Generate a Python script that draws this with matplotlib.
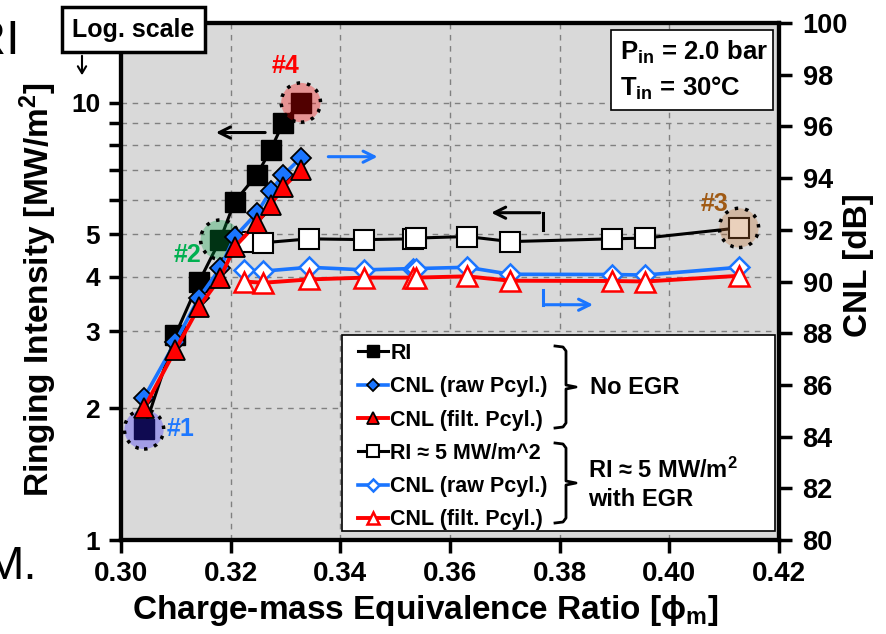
import matplotlib
matplotlib.use("Agg")
import matplotlib.pyplot as plt
from matplotlib.lines import Line2D
from matplotlib.patches import Rectangle

plt.rcParams['font.family'] = ['Liberation Sans', 'DejaVu Sans']
plt.rcParams['font.weight'] = 'bold'
plt.rcParams['mathtext.fontset'] = 'custom'
plt.rcParams['mathtext.rm'] = 'Liberation Sans:bold'
plt.rcParams['mathtext.bf'] = 'Liberation Sans:bold'
plt.rcParams['mathtext.it'] = 'Liberation Sans:bold'

# No EGR sweep
phi_noegr = [0.3042, 0.3099, 0.3142, 0.3181, 0.3207, 0.3248, 0.3273, 0.3296, 0.3328]
ri_noegr = [1.79, 2.94, 3.89, 4.86, 5.93, 6.84, 7.80, 9.0, 10.0]
cnl_raw_noegr = [85.5, 87.66, 89.36, 90.52, 91.72, 92.65, 93.50, 94.12, 94.78]
cnl_filt_noegr = [85.1, 87.35, 89.01, 90.14, 91.33, 92.26, 92.96, 93.66, 94.31]

# RI ~ 5 MW/m2 with EGR
phi_egr = [0.3224, 0.3259, 0.3343, 0.3444, 0.3532, 0.3538, 0.3631, 0.3710, 0.3895, 0.3956, 0.4127]
ri_egr = [4.81, 4.78, 4.88, 4.86, 4.88, 4.90, 4.94, 4.81, 4.88, 4.90, 5.17]
cnl_raw_egr = [90.45, 90.40, 90.55, 90.45, 90.50, 90.50, 90.55, 90.28, 90.27, 90.25, 90.55]
cnl_filt_egr = [90.0, 89.95, 90.08, 90.15, 90.15, 90.15, 90.2, 90.03, 90.02, 90.0, 90.22]

# highlighted operating points (#1..#4)
hl_labels = ["#1", "#2", "#3", "#4"]
hl_phi = [phi_noegr[0], phi_noegr[3], phi_egr[-1], phi_noegr[-1]]
hl_ri = [ri_noegr[0], ri_noegr[3], ri_egr[-1], ri_noegr[-1]]
hl_fill = ["#3020ff", "#00a041", "#c07030", "#ff0000"]
hl_text = ["#1e78ff", "#00b050", "#a05a14", "#ff0000"]
hl_offset = [(37, 0), (-33, -15), (-24, 24), (-15, 37)]

x_ticks = [0.30, 0.32, 0.34, 0.36, 0.38, 0.40, 0.42]
ri_ticks = [1, 2, 3, 4, 5, 6, 7, 8, 9, 10]
ri_ticklabels = ["1", "2", "3", "4", "5", "", "", "", "", "10"]
cnl_ticks = list(range(80, 101, 2))

BLUE = "#1a75ff"
RED = "#ff0000"

W, H = 886, 634
def fx(px):
    return px / W
def fy(py):
    return 1 - py / H

fig = plt.figure(figsize=(8.86, 6.34), dpi=100)
ax = fig.add_axes([fx(121), fy(540), fx(779) - fx(121), fy(23) - fy(540)])
ax.set_facecolor("#d9d9d9")
ax.set_yscale("log")
ax.set_xlim(0.30, 0.42)
ax.set_ylim(1, 15.2)
ax.set_xticks(x_ticks)
ax.set_xticklabels([f"{v:.2f}" for v in x_ticks], fontsize=20)
ax.set_yticks(ri_ticks)
ax.set_yticklabels(ri_ticklabels, fontsize=19)
ax.yaxis.set_minor_locator(matplotlib.ticker.NullLocator())
ax.grid(True, color="#808080", lw=1, ls=(0, (4, 4)))
ax.tick_params(direction="out", length=9, width=2.5, pad=6)
for s in ax.spines.values():
    s.set_linewidth(3)

# RI series on log axis
ax.plot(phi_noegr, ri_noegr, color="k", lw=2.2, marker="s", ms=14.5, mfc="k", mec="k", zorder=3)
ax.plot(phi_egr, ri_egr, color="k", lw=2.2, marker="s", ms=14.5, mfc="white", mec="k", mew=1.5, zorder=3)

# highlight circles
ax.scatter(hl_phi, hl_ri, s=800, c=hl_fill, alpha=0.32, edgecolors="none", zorder=4)
ax.scatter(hl_phi, hl_ri, s=800, facecolors="none", edgecolors="k", linewidths=2.5,
           linestyles=(0, (1, 2)), zorder=4)
for lab, x, y, col, off in zip(hl_labels, hl_phi, hl_ri, hl_text, hl_offset):
    ax.annotate(lab, (x, y), xytext=off, textcoords="offset pixels", color=col,
                fontsize=18, ha="center", va="center", zorder=6)

# CNL on right axis
ax2 = ax.twinx()
ax2.set_ylim(80, 100)
ax2.set_yticks(cnl_ticks)
ax2.set_yticklabels([str(v) for v in cnl_ticks], fontsize=19.5)
ax2.tick_params(direction="out", length=9, width=2.5, pad=8)
for s in ax2.spines.values():
    s.set_linewidth(3)

l_raw, = ax2.plot(phi_noegr, cnl_raw_noegr, color=BLUE, lw=2.6, marker="D", ms=10,
                  mfc=BLUE, mec="k", mew=1.3, zorder=3)
l_filt, = ax2.plot(phi_noegr, cnl_filt_noegr, color=RED, lw=2.8, marker="^", ms=14,
                   mfc=RED, mec="k", mew=1.3, zorder=3)
l_raw_e, = ax2.plot(phi_egr, cnl_raw_egr, color=BLUE, lw=2.6, marker="D", ms=10,
                    mfc="white", mec=BLUE, mew=1.8, zorder=3)
l_filt_e, = ax2.plot(phi_egr, cnl_filt_egr, color=RED, lw=2.8, marker="^", ms=14,
                     mfc="white", mec=RED, mew=1.8, zorder=3)

# direction arrows
arr = dict(arrowstyle="->,head_length=0.8,head_width=0.4", lw=2.2)
ax.annotate("", xy=(0.3168, 8.54), xytext=(0.3268, 8.54), arrowprops=dict(arr, color="k"))
ax.annotate("", xy=(0.3473, 7.52), xytext=(0.3373, 7.52), arrowprops=dict(arr, color=BLUE))
ax.plot([0.3769, 0.3769], [5.12, 5.60], color="k", lw=2.2)
ax.annotate("", xy=(0.3670, 5.60), xytext=(0.3769, 5.60), arrowprops=dict(arr, color="k"))
ax.plot([0.3769, 0.3769], [3.73, 3.45], color=BLUE, lw=2.2)
ax.annotate("", xy=(0.3866, 3.45), xytext=(0.3769, 3.45), arrowprops=dict(arr, color=BLUE))

# legend panel
ax2.add_patch(Rectangle((fx(342), fy(531)), fx(775) - fx(342), fy(335) - fy(531),
                        transform=fig.transFigure, facecolor="white", edgecolor="k",
                        lw=1.2, zorder=4))
handles = [ax.lines[0], l_raw, l_filt, ax.lines[1], l_raw_e, l_filt_e]
labels = ["RI", "CNL (raw Pcyl.)", "CNL (filt. Pcyl.)",
          "RI \u2248 5 MW/m^2", "CNL (raw Pcyl.)", "CNL (filt. Pcyl.)"]
leg = ax2.legend(handles, labels, loc="upper left", bbox_to_anchor=(fx(358), fy(343)),
                 bbox_transform=fig.transFigure, frameon=False, fontsize=15.5,
                 handlelength=1.4, handletextpad=0.1, labelspacing=0.57,
                 borderpad=0, borderaxespad=0, markerscale=0.6)
leg.set_zorder(5)

def brace(ytop, ybot):
    ym = (ytop + ybot) / 2
    xs = [555, 563, 566, 566, 576, 566, 566, 563, 555]
    ys = [ytop, ytop + 1, ytop + 5, ym - 2, ym, ym + 2, ybot - 5, ybot - 1, ybot]
    fig.add_artist(Line2D([fx(v) for v in xs], [fy(v) for v in ys], color="k", lw=2,
                          solid_joinstyle="round", zorder=6))

brace(346, 428)
brace(443, 523)
fig.text(fx(590), fy(387), "No EGR", fontsize=17, va="center", ha="left", zorder=6)
fig.text(fx(588), fy(470), "RI \u2248 5 MW/m$^{\\rm 2}$", fontsize=17, va="center", ha="left", zorder=6)
fig.text(fx(588), fy(500), "with EGR", fontsize=17, va="center", ha="left", zorder=6)

# inlet conditions box
ax2.add_patch(Rectangle((fx(611), fy(110)), fx(773) - fx(611), fy(30) - fy(110),
                        transform=fig.transFigure, facecolor="white", edgecolor="k",
                        lw=1.2, zorder=4))
fig.text(fx(620), fy(52), "P$_{\\rm in}$ = 2.0 bar", fontsize=18.5, va="center", ha="left")
fig.text(fx(620), fy(88), "T$_{\\rm in}$ = 30\u00b0C", fontsize=18.5, va="center", ha="left")

# log scale note
fig.add_artist(Rectangle((fx(62), fy(52)), fx(205) - fx(62), fy(7) - fy(52),
                         transform=fig.transFigure, facecolor="white", edgecolor="k", lw=2.5))
fig.text(fx(133), fy(30), "Log. scale", fontsize=18, ha="center", va="center")
fig.add_artist(matplotlib.patches.FancyArrowPatch((fx(82), fy(53)), (fx(82), fy(78)),
               transform=fig.transFigure, arrowstyle="->,head_length=5,head_width=3",
               color="k", lw=1.5))

# axis titles
fig.text(fx(38), fy(290), "Ringing Intensity [MW/m$^{\\rm 2}$]", rotation=90,
         fontsize=24, ha="center", va="center")
fig.text(fx(858), fy(265), "CNL [dB]", rotation=90, fontsize=24, ha="center", va="center")
fig.text(fx(425), fy(610), "Charge-mass Equivalence Ratio [$\\phi_{\\rm m}$]",
         fontsize=24, ha="center", va="center")

# slide leftovers at the left border
fig.text(fx(-29), fy(42), "RI", fontsize=35, fontweight="normal", ha="left", va="center")
fig.text(fx(-16), fy(567), "M.", fontsize=34, fontweight="normal", ha="left", va="center")

fig.savefig("out.png", dpi=100)
